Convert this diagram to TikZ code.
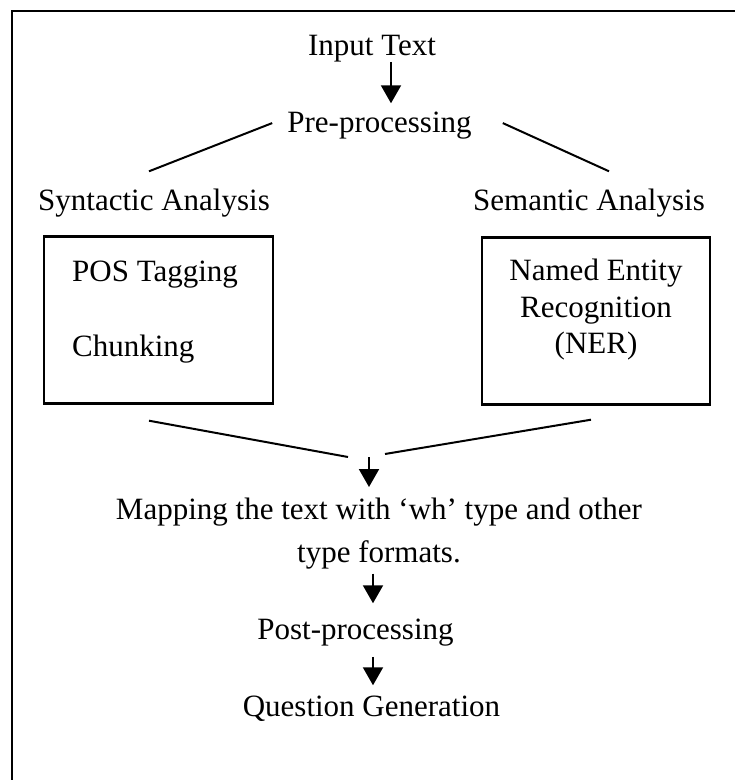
\documentclass[tikz,border=0pt]{standalone}
\usepackage{fontspec}
\setmainfont{Liberation Serif}
\usetikzlibrary{arrows.meta}

\begin{document}
\begin{tikzpicture}[
      x=1pt, y=-1pt,
      every node/.style={inner sep=0pt, font=\fontsize{31}{36.5}\selectfont},
      txt/.style={anchor=base},
      box/.style={draw, line width=2.4pt, minimum height=167pt},
      link/.style={line width=2pt},
      arr/.style={-{Triangle[width=20pt,length=18pt]}, line width=2pt}
    ]

      \useasboundingbox (0,0) rectangle (735,780);
      \draw[line width=2.5pt] (12,800) -- (12,11) -- (760,11);

      \node[txt] (input) at (372,55) {Input Text};
      \node[txt] (pre) at (379.5,132) {Pre-processing};
      \node[txt] (syn) at (154,210) {Syntactic Analysis};
      \node[txt] (sem) at (589,210) {Semantic Analysis};

      \node[box, minimum width=229pt] (synbox) at (158.5,320) {};
      \node[anchor=base west] (pos) at (72,281) {POS Tagging};
      \node[anchor=base west] (chunk) at (72,356) {Chunking};

      \node[box, minimum width=228pt] (nerbox) at (596,321) {};
      \node[anchor=north, align=center] (ner) at (596,259) {Named Entity\\Recognition\\(NER)};

      \coordinate (join) at (369,457);
      \node[anchor=north, align=center, font=\fontsize{31}{43}\selectfont] (map) at (379,498)
        {Mapping the text with ‘wh’ type and other\\type formats.};
      \node[txt] (post) at (355.5,639) {Post-processing};
      \node[txt] (qgen) at (371.5,716) {Question Generation};

      \draw[arr, shorten >=8pt] ([xshift=19pt]input.south) -- ([xshift=19pt]input.south |- pre.north);
      \draw[link] ([xshift=-15pt,yshift=2pt]pre.west) -- ([xshift=-5pt,yshift=17pt]syn.north);
      \draw[link] ([xshift=31pt,yshift=2pt]pre.east) -- ([xshift=20pt,yshift=17pt]sem.north);

      \draw[link] ([xshift=-9.5pt,yshift=-16pt]synbox.south) -- ([xshift=-21pt]join);
      \draw[link] ([xshift=-5pt,yshift=-14pt]nerbox.south) -- ([xshift=16pt,yshift=3pt]join);
      \draw[arr, shorten >=11pt] (join) -- (join |- map.north);
      \draw[arr, shorten <=4pt, shorten >=15pt] ([xshift=-6pt]map.south) -- ([xshift=-6pt]map.south |- post.north);
      \draw[arr, shorten <=11pt, shorten >=10pt] ([xshift=17.5pt]post.south) -- ([xshift=17.5pt]post.south |- qgen.north);

    \end{tikzpicture}
\end{document}
